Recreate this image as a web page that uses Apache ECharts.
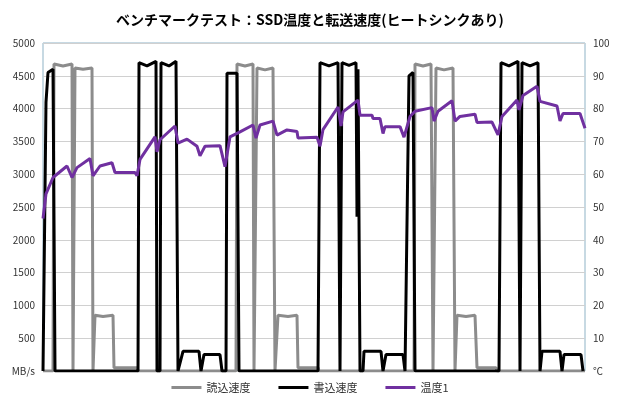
<!DOCTYPE html>
<html>
<head>
    <meta charset="UTF-8">
    <title>ECharts</title>
    <script src="https://cdn.jsdelivr.net/npm/echarts@6/dist/echarts.min.js"></script>
</head>
<body style="margin:0">
<div id="chart" style="width: 620px; height: 400px;"></div>
<script type="text/javascript">
    // [時間, 値]
    var readSpeed = [[0,0],[10,0],[11,4680],[20,4650],[29,4680],[30,0],[31,0],[32,4620],[40,4600],[49,4620],[50,0],[51,0],[52,850],[60,830],[70,850],[71,50],[94,50],[95,0],
        [193,0],[194,4680],[202,4650],[210,4680],[211,0],[213,0],[214,4620],[222,4590],[230,4620],[232,0],[234,0],[235,850],[245,830],[254,850],[255,50],[275,50],[276,0],
        [371,0],[372,4680],[380,4650],[388,4680],[390,0],[392,0],[393,4620],[401,4590],[410,4620],[412,0],[413,0],[414,850],[423,830],[432,850],[434,50],[453,50],[454,0],[542,0]];
    var writeSpeed = [[0,0],[3,4100],[5,4550],[10,4600],[12,0],[95,0],[96,4700],[104,4650],[113,4720],[114,0],[117,0],[118,4700],[126,4650],[133,4720],[135,0],[137,0],[140,300],[156,300],[158,0],[160,0],[161,250],[177,250],[179,0],[183,0],[184,4540],[194,4540],[196,0],
        [275,0],[277,4700],[286,4650],[295,4700],[297,0],[298,0],[299,4700],[306,4660],[313,4700],[314,2350],[315,4600],[317,0],[320,0],[321,300],[338,300],[340,0],[342,0],[343,250],[360,250],[362,0],[363,0],[366,4500],[370,4550],[372,0],
        [456,0],[458,4700],[466,4650],[475,4720],[477,0],[478,0],[479,4700],[487,4650],[495,4700],[497,0],[498,0],[499,300],[517,300],[519,0],[520,0],[521,250],[538,250],[540,0]];
    var temperature = [[0,46.5],[3,54],[10,59],[24,62.5],[29,59],[34,62],[47,64.8],[50,59.5],[57,62.5],[69,63.5],[72,60.5],[92,60.5],[94,59.5],[97,64.5],[112,71.4],[114,66.8],[117,70.5],[132,74.7],[135,69.5],[144,70.7],[154,68.5],[157,65.6],[162,68.5],[177,68.7],[182,62.3],[187,71.4],[197,72.9],[210,75],[213,71],[217,75],[230,76.2],[234,71.9],[244,73.5],[254,73],[255,71],[274,71.3],
        [277,68.5],[280,73.6],[295,80.5],[298,74.7],[300,79],[315,82.6],[317,78],[329,78],[330,77],[337,77],[340,72.4],[342,74.5],[357,74.5],[361,71.3],[367,77.6],[372,79.2],[389,80.3],[391,76.2],[395,79.2],[409,82.4],[412,76.2],[417,77.6],[432,78.3],[434,75.8],[449,75.9],[455,72],[459,77.6],[474,82.6],[476,79.6],[480,84],[494,86.8],[497,82.2],[514,80.8],[517,76.2],[520,78.5],[537,78.5],[542,74]];

    var chart = echarts.init(document.getElementById('chart'));
    var font = '"Noto Sans CJK JP", sans-serif';
    chart.setOption({
        animation: false,
        textStyle: {fontFamily: font},
        title: {
            text: 'ベンチマークテスト：SSD温度と転送速度(ヒートシンクあり)',
            left: 'center', top: 8,
            textStyle: {fontSize: 14, fontWeight: 'bold', color: '#000', fontFamily: font}
        },
        legend: {
            bottom: 2, left: 'center', itemWidth: 30, itemHeight: 3, itemGap: 28,
            icon: 'rect',
            textStyle: {fontSize: 11, color: '#333'},
            data: ['読込速度', '書込速度', '温度1']
        },
        grid: {left: 43, right: 35, top: 43, bottom: 29, show: true, borderColor: '#8fb3c6', borderWidth: 1},
        xAxis: {type: 'value', min: 0, max: 542, show: false},
        yAxis: [{
            type: 'value', min: 0, max: 5000, interval: 500,
            axisLine: {show: false}, axisTick: {show: false},
            splitLine: {lineStyle: {color: '#d0d0d0'}},
            axisLabel: {fontSize: 10, color: '#333', formatter: function (v) { return v === 0 ? 'MB/s' : v; }}
        }, {
            type: 'value', min: 0, max: 100, interval: 10,
            axisLine: {show: false}, axisTick: {show: false}, splitLine: {show: false},
            axisLabel: {fontSize: 10, color: '#333', formatter: function (v) { return v === 0 ? '℃' : v; }}
        }],
        series: [
            {name: '読込速度', type: 'line', data: readSpeed, showSymbol: false, lineStyle: {width: 3, color: '#8c8c8c'}, itemStyle: {color: '#8c8c8c'}},
            {name: '書込速度', type: 'line', data: writeSpeed, showSymbol: false, lineStyle: {width: 3, color: '#000'}, itemStyle: {color: '#000'}},
            {name: '温度1', type: 'line', yAxisIndex: 1, data: temperature, showSymbol: false, lineStyle: {width: 3, color: '#7030a0'}, itemStyle: {color: '#7030a0'}}
        ]
    });
</script>
</body>
</html>
